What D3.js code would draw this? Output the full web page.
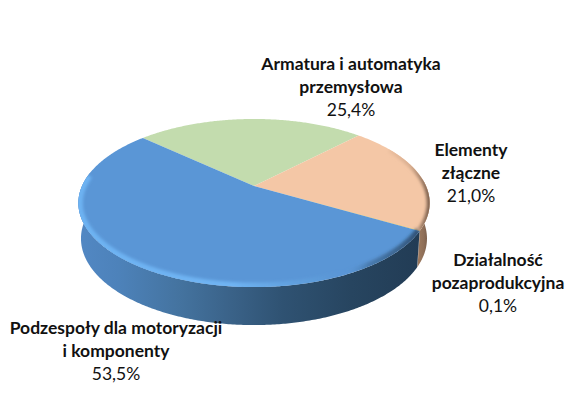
<!DOCTYPE html>
<html><head><meta charset="utf-8">
<script src="https://cdn.jsdelivr.net/npm/d3@7"></script>
<style>html,body{margin:0;padding:0;background:#fff}svg{display:block}text{font-family:Lato,"Open Sans",sans-serif;fill:#111}</style>
</head><body><svg id="c" width="583" height="412"></svg>
<script>
const categories = ["Armatura i automatyka przemysłowa","Elementy złączne","Działalność pozaprodukcyjna","Podzespoły dla motoryzacji i komponenty"];
const values = [25.4,21.0,0.1,53.5];
const valueLabels = ["25,4%","21,0%","0,1%","53,5%"];
const labelLines = [["Armatura i automatyka","przemysłowa"],["Elementy","złączne"],["Działalność","pozaprodukcyjna"],["Podzespoły dla motoryzacji","i komponenty"]];
const labelPos = [[351,70],[471,156],[498,266],[116,334]];
const colors = ["#c3dcae","#f4c7a6","#e8b84a","#5a96d6"];

const svg = d3.select("#c");
const defs = svg.append("defs");
const rad = d => d*Math.PI/180;
const pie = d3.pie().sort(null).startAngle(rad(-47.3)).endAngle(rad(312.7));
const arcs = pie(values);

// perspective projection of the disc
const x0=254,y0=186,a=172,b=80.6,k=0.2024;
const proj = t => { const u=Math.sin(t), v=-Math.cos(t), w=1-k*v; return [x0+a*u/w, y0+b*v/w]; };
const projB = t => { const p=proj(t); return [252.5+(p[0]-252.5)*0.985, y0+35+(p[1]-y0)*1.03]; };
const line = d3.line();
const sample = (s,e,f) => { const n=Math.max(2,Math.ceil(Math.abs(e-s)/0.01)); return d3.range(n+1).map(i=>f(s+(e-s)*i/n)); };

function grad(id,x1,x2,stops){
  const g=defs.append("linearGradient").attr("id",id).attr("gradientUnits","userSpaceOnUse")
    .attr("x1",x1).attr("x2",x2).attr("y1",0).attr("y2",0);
  stops.forEach(s=>g.append("stop").attr("offset",s[0]).attr("stop-color",s[1]).attr("stop-opacity",s[2]===undefined?1:s[2]));
}
grad("wallBlue",77,420,[[0,"#5288c4"],[0.12,"#4d82ba"],[0.3,"#44739f"],[0.45,"#3a6288"],[0.6,"#2f5272"],[0.8,"#274560"],[1,"#223c55"]]);
grad("wallPeach",414,430,[[0,"#a88264"],[0.6,"#8f6f58"],[1,"#6f5646"]]);
grad("rimBlue",77,420,[[0,"#6db2f2"],[0.45,"#6fb4f3"],[0.7,"#5f9fdc",0.6],[0.78,"#5a96d6",0],[0.85,"#2a4a68",0.35],[1,"#1f3a55",0.75]]);
grad("rimPeach",380,430,[[0,"#f4c7a6"],[0.6,"#d9ae90"],[1,"#7a5f4c"]]);
const blur=defs.append("filter").attr("id","soft").attr("x","-10%").attr("y","-10%").attr("width","120%").attr("height","120%");
blur.append("feGaussianBlur").attr("stdDeviation",1.4);

// side walls
const S=rad(360);
const blueArc=arcs[3], peachArc=arcs[1];
const wall=(s,e,fill)=>{
  const pts=sample(s,e,proj).concat(sample(s,e,projB).reverse());
  svg.append("path").attr("d",line(pts)+"Z").attr("fill",fill);
};
wall(rad(85),peachArc.endAngle,"url(#wallPeach)");
wall(arcs[2].startAngle,arcs[2].endAngle,"#8f6f58");
wall(blueArc.startAngle,rad(280),"url(#wallBlue)");

// top faces
const slicePath=d=>line([[x0,y0]].concat(sample(d.startAngle,d.endAngle,proj)))+"Z";
defs.append("clipPath").attr("id","topClip").append("path")
  .attr("d",line(sample(0,S,proj))+"Z");
svg.selectAll("path.slice").data(arcs).enter().append("path").attr("class","slice")
  .attr("d",slicePath).attr("fill",(d,i)=>colors[i]);

// bevel rims
const rim=svg.append("g").attr("clip-path","url(#topClip)");
rim.append("path").attr("d",line(sample(blueArc.startAngle,rad(278),proj))).attr("fill","none")
  .attr("stroke","url(#rimBlue)").attr("stroke-width",9).attr("filter","url(#soft)");
rim.append("path").attr("d",line(sample(rad(60),peachArc.endAngle,proj))).attr("fill","none")
  .attr("stroke","url(#rimPeach)").attr("stroke-width",6).attr("filter","url(#soft)");

// labels
arcs.forEach((d,i)=>{
  const [lx,ly]=labelPos[i];
  const t=svg.append("text").attr("text-anchor","middle").attr("font-size",17.5);
  labelLines[i].forEach((s,j)=>t.append("tspan").attr("x",lx).attr("y",ly+j*23).attr("font-weight",700).text(s));
  t.append("tspan").attr("x",lx).attr("y",ly+labelLines[i].length*23).attr("font-weight",400).text(valueLabels[i]);
});
</script></body></html>
